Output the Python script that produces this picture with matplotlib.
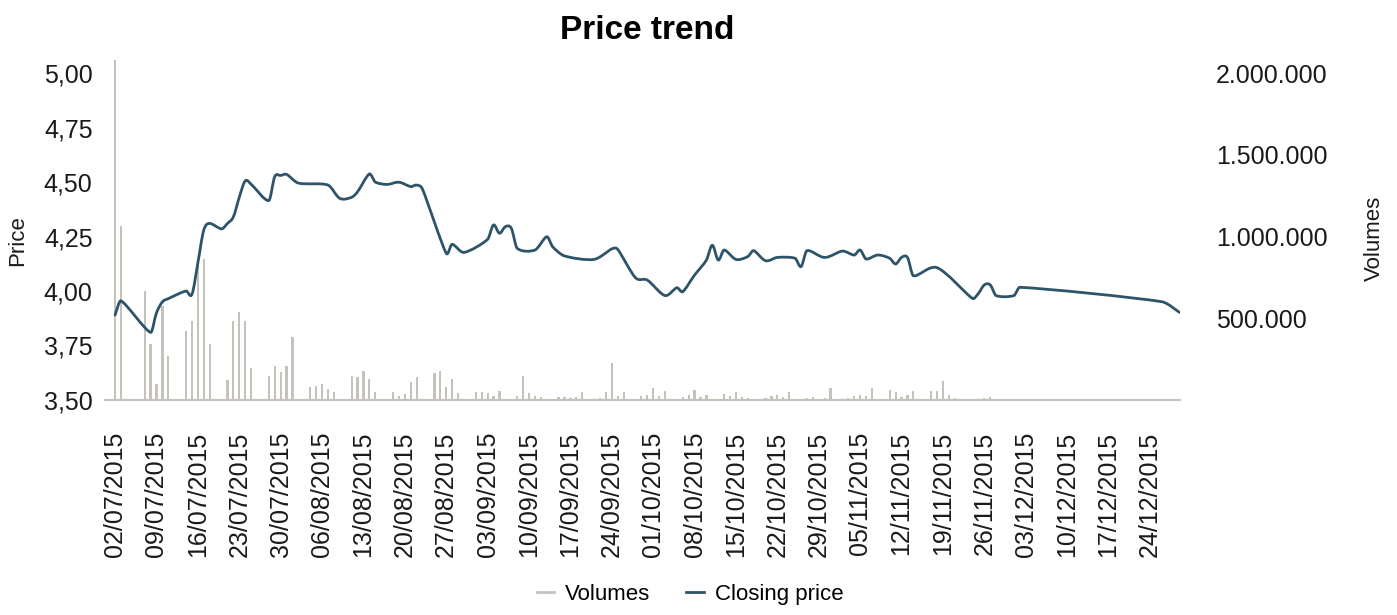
from datetime import datetime
import numpy as np
import matplotlib
matplotlib.use("Agg")
import matplotlib.pyplot as plt
import matplotlib.dates as mdates
from matplotlib.lines import Line2D
from matplotlib.path import Path
from matplotlib.patches import PathPatch
from matplotlib.ticker import FixedLocator, FuncFormatter

# closing price
price_dates = [
    "02/07", "03/07", "08/07", "09/07", "10/07", "11/07", "14/07", "15/07", "16/07", "17/07",
    "18/07", "20/07", "21/07", "22/07", "23/07", "24/07", "25/07", "28/07", "29/07", "30/07",
    "31/07", "02/08", "07/08", "09/08", "11/08", "12/08", "14/08", "15/08", "17/08", "19/08",
    "21/08", "22/08", "23/08", "27/08", "28/08", "30/08", "03/09", "04/09", "05/09", "06/09",
    "07/09", "08/09", "11/09", "13/09", "14/09", "16/09", "21/09", "24/09", "25/09", "28/09",
    "30/09", "03/10", "05/10", "06/10", "08/10", "10/10", "11/10", "12/10", "13/10", "15/10",
    "17/10", "18/10", "20/10", "22/10", "25/10", "26/10", "27/10", "30/10", "02/11", "04/11",
    "05/11", "06/11", "08/11", "10/11", "11/11", "12/11", "13/11", "14/11", "18/11", "24/11",
    "25/11", "26/11", "27/11", "28/11", "01/12", "02/12", "26/12", "29/12",
]
price_values = [
    3.89, 3.955, 3.81, 3.90, 3.95, 3.965, 4.00, 3.985, 4.13, 4.28,
    4.31, 4.285, 4.31, 4.34, 4.43, 4.505, 4.49, 4.415, 4.525, 4.53,
    4.535, 4.495, 4.486, 4.425, 4.43, 4.455, 4.537, 4.50, 4.489, 4.499,
    4.479, 4.486, 4.466, 4.173, 4.214, 4.177, 4.237, 4.303, 4.265, 4.295,
    4.288, 4.196, 4.188, 4.249, 4.203, 4.161, 4.145, 4.193, 4.191, 4.061,
    4.050, 3.979, 4.015, 3.997, 4.073, 4.142, 4.21, 4.142, 4.188, 4.145,
    4.158, 4.185, 4.139, 4.154, 4.15, 4.112, 4.185, 4.154, 4.183, 4.165,
    4.188, 4.147, 4.165, 4.15, 4.124, 4.154, 4.154, 4.07, 4.107, 3.966,
    3.989, 4.028, 4.028, 3.979, 3.979, 4.017, 3.951, 3.902,
]

# traded volumes
volume_dates = [
    "02/07", "03/07",
    "07/07", "08/07", "09/07", "10/07", "11/07",
    "14/07", "15/07", "16/07", "17/07", "18/07",
    "21/07", "22/07", "23/07", "24/07", "25/07",
    "28/07", "29/07", "30/07", "31/07", "01/08",
    "04/08", "05/08", "06/08", "07/08", "08/08",
    "11/08", "12/08", "13/08", "14/08", "15/08",
    "18/08", "19/08", "20/08", "21/08", "22/08",
    "25/08", "26/08", "27/08", "28/08", "29/08",
    "01/09", "02/09", "03/09", "04/09", "05/09",
    "08/09", "09/09", "10/09", "11/09", "12/09",
    "15/09", "16/09", "17/09", "18/09", "19/09",
    "22/09", "23/09", "24/09", "25/09", "26/09",
    "29/09", "30/09", "01/10", "02/10", "03/10",
    "06/10", "07/10", "08/10", "09/10", "10/10",
    "13/10", "14/10", "15/10", "16/10", "17/10",
    "20/10", "21/10", "22/10", "23/10", "24/10",
    "27/10", "28/10", "30/10", "31/10",
    "03/11", "04/11", "05/11", "06/11", "07/11",
    "10/11", "11/11", "12/11", "13/11", "14/11",
    "17/11", "18/11", "19/11", "20/11", "21/11",
    "26/11", "27/11",
]
volume_values = [
    2300000, 1062000,
    664000, 343000, 98000, 578000, 267000,
    425000, 486000, 837000, 864000, 343000,
    123000, 486000, 537000, 486000, 196000,
    149000, 210000, 173000, 210000, 384000,
    77000, 88000, 98000, 67000, 51000,
    149000, 139000, 175000, 129000, 51000,
    51000, 22000, 37000, 108000, 139000,
    163000, 180000, 82000, 129000, 45000,
    51000, 47000, 40000, 25000, 57000,
    22000, 149000, 43000, 26000, 20000,
    16000, 16000, 12000, 16000, 47000,
    10000, 47000, 227000, 26000, 47000,
    22000, 33000, 74000, 22000, 57000,
    20000, 33000, 61000, 16000, 33000,
    37000, 26000, 47000, 20000, 10000,
    12000, 22000, 33000, 16000, 47000,
    10000, 20000, 12000, 74000,
    12000, 22000, 33000, 26000, 71000,
    61000, 47000, 20000, 33000, 57000,
    53000, 57000, 114000, 33000, 12000,
    12000, 20000,
]

price_ticks = [3.50, 3.75, 4.00, 4.25, 4.50, 4.75, 5.00]
volume_ticks = [500000, 1000000, 1500000, 2000000]

BAR_COLOR = "#c4c2bb"
LINE_COLOR = "#2d5468"


def to_dates(labels):
    return [datetime.strptime(s + "/2015", "%d/%m/%Y") for s in labels]


def smooth_path(x, y):
    # smoothed line: cubic Bezier through every point, handles kept inside each segment
    pts = np.column_stack([x, y])
    verts = [pts[0]]
    codes = [Path.MOVETO]
    n = len(pts)
    for i in range(n - 1):
        p0 = pts[max(i - 1, 0)]
        p1 = pts[i]
        p2 = pts[i + 1]
        p3 = pts[min(i + 2, n - 1)]
        dx = (p2[0] - p1[0]) / 3.0
        t1 = (p2 - p0) / 6.0
        t2 = (p3 - p1) / 6.0
        if t1[0] > dx:
            t1 = t1 * dx / t1[0]
        if t2[0] > dx:
            t2 = t2 * dx / t2[0]
        verts += [p1 + t1, p2 - t2, p2]
        codes += [Path.CURVE4] * 3
    return Path(verts, codes)


def main():
    plt.rcParams["font.family"] = ["Liberation Sans", "DejaVu Sans"]

    fig = plt.figure(figsize=(13.97, 6.15), dpi=100)
    ax = fig.add_axes([0.0752, 0.3496, 0.7695, 0.5528])
    ax2 = ax.twinx()

    px = mdates.date2num(to_dates(price_dates))
    vx = to_dates(volume_dates)

    ax2.bar(vx, volume_values, width=0.38, color=BAR_COLOR, linewidth=0)
    ax.add_patch(PathPatch(smooth_path(px, np.array(price_values)), facecolor="none",
                           edgecolor=LINE_COLOR, lw=2.0, joinstyle="round", capstyle="round"))

    # line on top of the bars
    ax.set_zorder(ax2.get_zorder() + 1)
    ax.patch.set_visible(False)

    start = mdates.date2num(datetime(2015, 7, 2))
    ax.set_xlim(start - 1.7, start + 180.1)
    ax.set_ylim(3.5, 5.0596)
    ax2.set_ylim(0, 2079500)
    ax.xaxis_date()

    ax.yaxis.set_major_locator(FixedLocator(price_ticks))
    ax.yaxis.set_major_formatter(FuncFormatter(lambda v, _: f"{v:.2f}".replace(".", ",")))
    ax2.yaxis.set_major_locator(FixedLocator(volume_ticks))
    ax2.yaxis.set_major_formatter(FuncFormatter(lambda v, _: f"{v:,.0f}".replace(",", ".")))

    ax.xaxis.set_major_locator(mdates.WeekdayLocator(byweekday=mdates.TH))
    ax.xaxis.set_major_formatter(mdates.DateFormatter("%d/%m/%Y"))
    ax.xaxis.set_minor_locator(FixedLocator([start]))

    for a in (ax, ax2):
        for side in ("top", "left", "right", "bottom"):
            a.spines[side].set_visible(False)
    ax.spines["bottom"].set_visible(True)
    ax.spines["bottom"].set_color(BAR_COLOR)
    ax.spines["bottom"].set_linewidth(1.6)

    ax.tick_params(axis="x", which="major", length=0, pad=23, labelsize=18, labelrotation=90,
                   colors="#1a1a1a")
    ax.tick_params(axis="x", which="minor", length=6, width=1.6, color=BAR_COLOR)
    ax.tick_params(axis="y", length=0, pad=9, labelsize=18, colors="#1a1a1a")
    ax2.tick_params(axis="y", length=0, pad=26, labelsize=18, colors="#1a1a1a")
    for lab in ax2.get_yticklabels():
        lab.set_horizontalalignment("left")

    ax.set_ylabel("Price", fontsize=16, color="#1a1a1a")
    ax.yaxis.set_label_coords(-0.072, 0.47)
    ax2.set_ylabel("Volumes", fontsize=16, color="#1a1a1a")
    ax2.yaxis.set_label_coords(1.171, 0.476)

    fig.suptitle("Price trend", x=0.4635, y=0.975, fontsize=24, fontweight="bold")

    handles = [Line2D([], [], color=BAR_COLOR, lw=2), Line2D([], [], color=LINE_COLOR, lw=2)]
    fig.legend(handles, ["Volumes", "Closing price"], loc="center", bbox_to_anchor=(0.494, 0.033),
               ncol=2, frameon=False, fontsize=16, handlelength=0.8, handletextpad=0.5,
               columnspacing=1.6)

    fig.savefig("out.png", dpi=100)


if __name__ == "__main__":
    main()
